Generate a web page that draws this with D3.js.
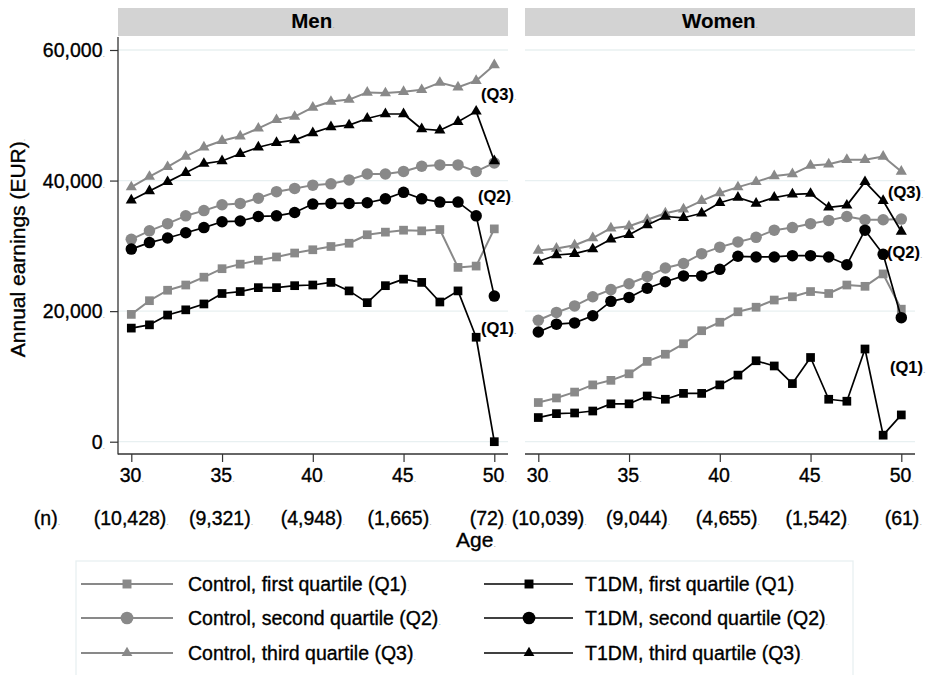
<!DOCTYPE html>
<html>
<head>
<meta charset="utf-8">
<script src="https://cdn.jsdelivr.net/npm/d3@7"></script>
<style>
  html, body { margin: 0; padding: 0; background: #fff; }
  svg { display: block; font-family: "Liberation Sans", Arial, Helvetica, sans-serif; }
  svg text { stroke: #000; stroke-width: 0.35px; }
</style>
</head>
<body>
<svg id="chart" width="929" height="675"></svg>
<script>
// Ages on the horizontal axis
const ages = [30, 31, 32, 33, 34, 35, 36, 37, 38, 39, 40, 41, 42, 43, 44, 45, 46, 47, 48, 49, 50];
const xTicks = [30, 35, 40, 45, 50];
const yTicks = [0, 20000, 40000, 60000];

// Annual earnings (EUR) by age, men
const menControlQ1 = [19500, 21600, 23200, 24000, 25200, 26500, 27200, 27800, 28300, 28900, 29400, 29900, 30400, 31700, 32100, 32400, 32300, 32500, 26700, 26900, 32600];
const menControlQ2 = [31000, 32300, 33400, 34600, 35400, 36300, 36500, 37300, 38300, 38800, 39300, 39500, 40100, 41000, 41000, 41400, 42200, 42400, 42400, 41400, 42700];
const menControlQ3 = [39000, 40600, 42100, 43700, 45100, 46100, 46800, 48000, 49300, 49800, 51200, 52100, 52400, 53500, 53400, 53600, 53900, 55000, 54300, 55300, 57700];
const menT1dmQ1 = [17400, 17900, 19400, 20200, 21100, 22700, 23000, 23600, 23600, 23900, 24000, 24400, 23100, 21300, 23900, 24900, 24400, 21400, 23100, 16000, 0];
const menT1dmQ2 = [29500, 30500, 31200, 32000, 32800, 33700, 33800, 34500, 34600, 35100, 36400, 36500, 36500, 36600, 37200, 38200, 37200, 36700, 36700, 34600, 22300];
const menT1dmQ3 = [37000, 38400, 39800, 41200, 42600, 43000, 44100, 45100, 45800, 46200, 47300, 48200, 48500, 49500, 50200, 50200, 47900, 47700, 49000, 50600, 43000];

// Annual earnings (EUR) by age, women
const womenControlQ1 = [6000, 6700, 7600, 8700, 9400, 10400, 12300, 13400, 15000, 17000, 18300, 19900, 20600, 21700, 22200, 23000, 22700, 24000, 23800, 25700, 20300];
const womenControlQ2 = [18600, 19800, 20800, 22200, 23300, 24200, 25300, 26600, 27300, 28800, 29800, 30600, 31300, 32400, 32800, 33400, 33900, 34500, 34000, 34000, 34100];
const womenControlQ3 = [29300, 29600, 30100, 31200, 32700, 33000, 34000, 35000, 35600, 36900, 38100, 39000, 39800, 40700, 41000, 42300, 42500, 43200, 43200, 43700, 41400];
const womenT1dmQ1 = [3700, 4300, 4400, 4700, 5800, 5800, 7000, 6500, 7400, 7400, 8700, 10200, 12400, 11600, 8900, 12900, 6500, 6200, 14200, 1000, 4100];
const womenT1dmQ2 = [16800, 18000, 18200, 19300, 21500, 22100, 23500, 24500, 25400, 25400, 26400, 28400, 28300, 28300, 28500, 28500, 28300, 27100, 32400, 28700, 19000];
const womenT1dmQ3 = [27600, 28600, 28800, 29500, 31000, 31700, 33200, 34500, 34300, 35000, 36600, 37400, 36500, 37400, 37900, 38000, 35900, 36200, 39800, 36900, 32200];

// Group sizes printed under the age axis
const menN = ["(10,428)", "(9,321)", "(4,948)", "(1,665)", "(72)"];
const womenN = ["(10,039)", "(9,044)", "(4,655)", "(1,542)", "(61)"];

const panelNames = ["Men", "Women"];
const seriesLabels = [
  "Control, first quartile (Q1)", "Control, second quartile (Q2)", "Control, third quartile (Q3)",
  "T1DM, first quartile (Q1)", "T1DM, second quartile (Q2)", "T1DM, third quartile (Q3)"
];
const quartileTags = ["(Q1)", "(Q2)", "(Q3)"];

// ---- layout & styles ----
const GREY = "#898989";
const BLACK = "#000";
const GRID = "#e8f0f1";
const AXIS = "#333";
const FONT = 19.5;

const svg = d3.select("#chart");
svg.append("rect").attr("width", 929).attr("height", 675).attr("fill", "#fff");

const y = d3.scaleLinear().domain([0, 60000]).range([441.7, 50]);

const panels = [
  { name: panelNames[0], left: 118, right: 508, yAxis: true,
    series: [menControlQ1, menControlQ2, menControlQ3, menT1dmQ1, menT1dmQ2, menT1dmQ3],
    n: menN, nDx: [0, -1, 0, -4, -6],
    tags: [{ q: 0, x: 481, y: 334 }, { q: 1, x: 478, y: 202 }, { q: 2, x: 481, y: 100 }] },
  { name: panelNames[1], left: 525, right: 915, yAxis: false,
    series: [womenControlQ1, womenControlQ2, womenControlQ3, womenT1dmQ1, womenT1dmQ2, womenT1dmQ3],
    n: womenN, nDx: [11, 9, 8, 7, 2],
    tags: [{ q: 0, x: 890, y: 373 }, { q: 1, x: 887, y: 258 }, { q: 2, x: 888, y: 198 }] }
];

const symbolTypes = [d3.symbolSquare, d3.symbolCircle, d3.symbolTriangle];
const symbolSizes = [76, 104, 54];
const legendSymbolSizes = [80, 127, 50];

// trailing faint dot after each label
function addText(sel, str, fill) {
  sel.append("tspan").text(str).attr("fill", fill || "#000");
  sel.append("tspan").text(".").attr("fill", "#a8a8a8").attr("stroke", "none")
    .attr("font-size", 9).attr("font-weight", "normal");
  return sel;
}

panels.forEach((p) => {
  const x = d3.scaleLinear().domain([30, 50]).range([p.left + 13.3, p.right - 13.7]);
  const g = svg.append("g");

  // header strip
  g.append("rect").attr("x", p.left).attr("y", 8).attr("width", p.right - p.left).attr("height", 28)
    .attr("fill", "#d3d3d3");
  addText(g.append("text").attr("x", (p.left + p.right) / 2).attr("y", 28)
    .attr("text-anchor", "middle").attr("font-size", 20.5).attr("font-weight", "bold")
    .style("stroke-width", "0.1px"), p.name);

  // gridlines
  g.selectAll("line.grid").data(yTicks).join("line").attr("class", "grid")
    .attr("x1", p.left).attr("x2", p.right)
    .attr("y1", d => y(d)).attr("y2", d => y(d))
    .attr("stroke", GRID).attr("stroke-width", 1.3);

  // y axis (left panel only)
  if (p.yAxis) {
    const ya = g.append("g").attr("transform", `translate(${p.left},0)`)
      .call(d3.axisLeft(y).tickValues(yTicks).tickSize(8).tickPadding(5).tickFormat(d3.format(",")));
    ya.select(".domain").remove();
    ya.selectAll(".tick line").attr("stroke", AXIS).attr("stroke-width", 1.2);
    ya.selectAll(".tick text").each(function () {
      const t = d3.select(this);
      const s = t.text();
      t.text(null).attr("font-size", FONT).attr("font-family", null).attr("dy", "0.35em");
      addText(t, s);
    });
    g.append("line").attr("x1", p.left).attr("x2", p.left).attr("y1", 37).attr("y2", 454.5)
      .attr("stroke", AXIS).attr("stroke-width", 1.3);
  }

  // x axis
  const xa = g.append("g").attr("transform", "translate(0,454)")
    .call(d3.axisBottom(x).tickValues(xTicks).tickSize(8).tickPadding(6));
  xa.select(".domain").remove();
  xa.selectAll(".tick line").attr("stroke", AXIS).attr("stroke-width", 1.2);
  xa.selectAll(".tick text").each(function () {
    const t = d3.select(this);
    const s = t.text();
    t.text(null).attr("font-size", FONT).attr("font-family", null).attr("y", 28).attr("dy", null);
    addText(t, s);
  });
  g.append("line").attr("x1", p.left).attr("x2", p.right).attr("y1", 454).attr("y2", 454)
    .attr("stroke", AXIS).attr("stroke-width", 1.3);

  // group sizes
  p.n.forEach((s, i) => {
    addText(g.append("text").attr("x", x(xTicks[i]) + p.nDx[i]).attr("y", 525)
      .attr("text-anchor", "middle").attr("font-size", FONT), s);
  });

  // series: controls (grey) then T1DM (black)
  const line = d3.line().x((d, i) => x(ages[i])).y(d => y(d));
  p.series.forEach((vals, si) => {
    const color = si < 3 ? GREY : BLACK;
    const q = si % 3;
    g.append("path").datum(vals).attr("d", line)
      .attr("fill", "none").attr("stroke", color).attr("stroke-width", si < 3 ? 2 : 1.7)
      .attr("stroke-linejoin", "round");
    g.selectAll(null).data(vals).join("path")
      .attr("transform", (d, i) => `translate(${x(ages[i])},${y(d)})`)
      .attr("d", d3.symbol(symbolTypes[q], symbolSizes[q]))
      .attr("fill", color);
  });

  // quartile tags
  p.tags.forEach(t => {
    addText(g.append("text").attr("x", t.x).attr("y", t.y).attr("font-size", 16.5)
      .attr("font-weight", "bold").style("stroke-width", "0.1px"), quartileTags[t.q]);
  });
});

// (n) row label
addText(svg.append("text").attr("x", 47).attr("y", 525).attr("text-anchor", "middle").attr("font-size", FONT), "(n)");

// axis titles
addText(svg.append("text").attr("x", 476).attr("y", 547).attr("text-anchor", "middle").attr("font-size", 21), "Age");
addText(svg.append("text").attr("transform", "translate(25,248) rotate(-90)")
  .attr("text-anchor", "middle").attr("font-size", 21), "Annual earnings (EUR)");

// legend
const lg = svg.append("g");
lg.append("rect").attr("x", 76).attr("y", 561).attr("width", 777).attr("height", 118)
  .attr("fill", "none").attr("stroke", GRID).attr("stroke-width", 1.3);
const rowY = [584, 618, 653];
const cols = [
  { x1: 81, x2: 173, mx: 127, tx: 188, color: GREY, w: 2 },
  { x1: 484, x2: 573, mx: 529, tx: 585, color: BLACK, w: 1.7 }
];
seriesLabels.forEach((lab, i) => {
  const c = cols[Math.floor(i / 3)];
  const q = i % 3;
  const yy = rowY[q];
  lg.append("line").attr("x1", c.x1).attr("x2", c.x2).attr("y1", yy).attr("y2", yy)
    .attr("stroke", c.color).attr("stroke-width", c.w);
  lg.append("path").attr("transform", `translate(${c.mx},${yy})`)
    .attr("d", d3.symbol(symbolTypes[q], legendSymbolSizes[q])).attr("fill", c.color);
  addText(lg.append("text").attr("x", c.tx).attr("y", yy + 7).attr("font-size", FONT), lab);
});
</script>
</body>
</html>
